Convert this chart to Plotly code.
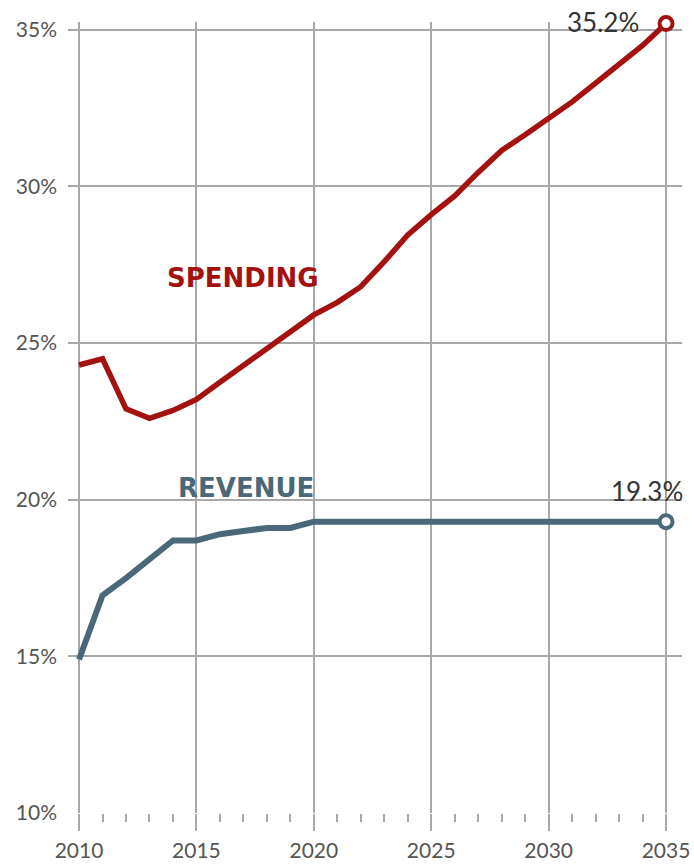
import plotly.graph_objects as go

years = list(range(2010, 2036))
spending = [24.3, 24.5, 22.9, 22.6, 22.85, 23.2, 23.75, 24.3, 24.85, 25.4, 25.9,
            26.3, 26.8, 27.6, 28.45, 29.1, 29.7, 30.45, 31.15, 31.65, 32.15,
            32.7, 33.3, 33.9, 34.5, 35.2]
revenue = [14.9, 16.95, 17.5, 18.1, 18.7, 18.7, 18.9, 19.0, 19.1, 19.1, 19.3,
           19.3, 19.3, 19.3, 19.3, 19.3, 19.3, 19.3, 19.3, 19.3, 19.3,
           19.3, 19.3, 19.3, 19.3, 19.3]
x_ticks = [2010, 2015, 2020, 2025, 2030, 2035]
y_ticks = [10, 15, 20, 25, 30, 35]
y_tick_text = ["10%", "15%", "20%", "25%", "30%", "35%"]

RED = "#a3120f"
SLATE = "#4b6878"
GRID = "#a8a8a8"
FONT = "Lato"
LABEL_FONT = "DejaVu Sans"

fig = go.Figure()
fig.add_trace(go.Scatter(x=years, y=spending, mode="lines",
                         line=dict(color=RED, width=5.5), cliponaxis=False,
                         hoverinfo="skip"))
fig.add_trace(go.Scatter(x=years, y=revenue, mode="lines",
                         line=dict(color=SLATE, width=6), cliponaxis=False,
                         hoverinfo="skip"))
# end markers
fig.add_trace(go.Scatter(x=[years[-1]], y=[spending[-1]], mode="markers",
                         marker=dict(size=13, color="white",
                                     line=dict(color=RED, width=4)),
                         cliponaxis=False, hoverinfo="skip"))
fig.add_trace(go.Scatter(x=[years[-1]], y=[revenue[-1]], mode="markers",
                         marker=dict(size=13, color="white",
                                     line=dict(color=SLATE, width=4)),
                         cliponaxis=False, hoverinfo="skip"))

fig.add_annotation(x=2032.3, y=spending[-1], text="35.2%", showarrow=False,
                   font=dict(family=FONT, size=26, color="#333333"),
                   yshift=2)
fig.add_annotation(x=2034.2, y=revenue[-1], text="19.3%", showarrow=False,
                   font=dict(family=FONT, size=26, color="#333333"),
                   yshift=31)
fig.add_annotation(x=2017.0, y=27.07, text="<b>SPENDING</b>", showarrow=False,
                   font=dict(family=LABEL_FONT, size=26, color=RED),
                   yanchor="middle")
fig.add_annotation(x=2017.1, y=20.38, text="<b>REVENUE</b>", showarrow=False,
                   font=dict(family=LABEL_FONT, size=26, color=SLATE),
                   yanchor="middle")

fig.update_layout(
    width=694, height=865,
    margin=dict(l=68, r=12, t=22, b=52),
    paper_bgcolor="white", plot_bgcolor="white",
    showlegend=False,
    font=dict(family=FONT, size=21, color="#555555"),
    xaxis=dict(range=[2009.53, 2035.68], tickvals=x_ticks,
               ticktext=[str(v) for v in x_ticks],
               showgrid=True, gridcolor=GRID, gridwidth=2,
               zeroline=False, showline=False, automargin=False,
               ticks="outside", ticklen=17, tickwidth=2, tickcolor=GRID,
               ticklabelstandoff=2,
               tickfont=dict(family=FONT, size=21, color="#555555"),
               minor=dict(dtick=1, tick0=2010, ticks="outside", ticklen=8,
                          tickwidth=1.5, tickcolor=GRID, showgrid=False),
               fixedrange=True),
    yaxis=dict(range=[10, 35.25], tickvals=y_ticks, ticktext=y_tick_text,
               showgrid=True, gridcolor=GRID, gridwidth=2,
               zeroline=False, showline=False, ticks="", automargin=False,
               ticklabelstandoff=10,
               tickfont=dict(family=FONT, size=21, color="#555555"),
               fixedrange=True),
)

fig.write_html("out.html")
